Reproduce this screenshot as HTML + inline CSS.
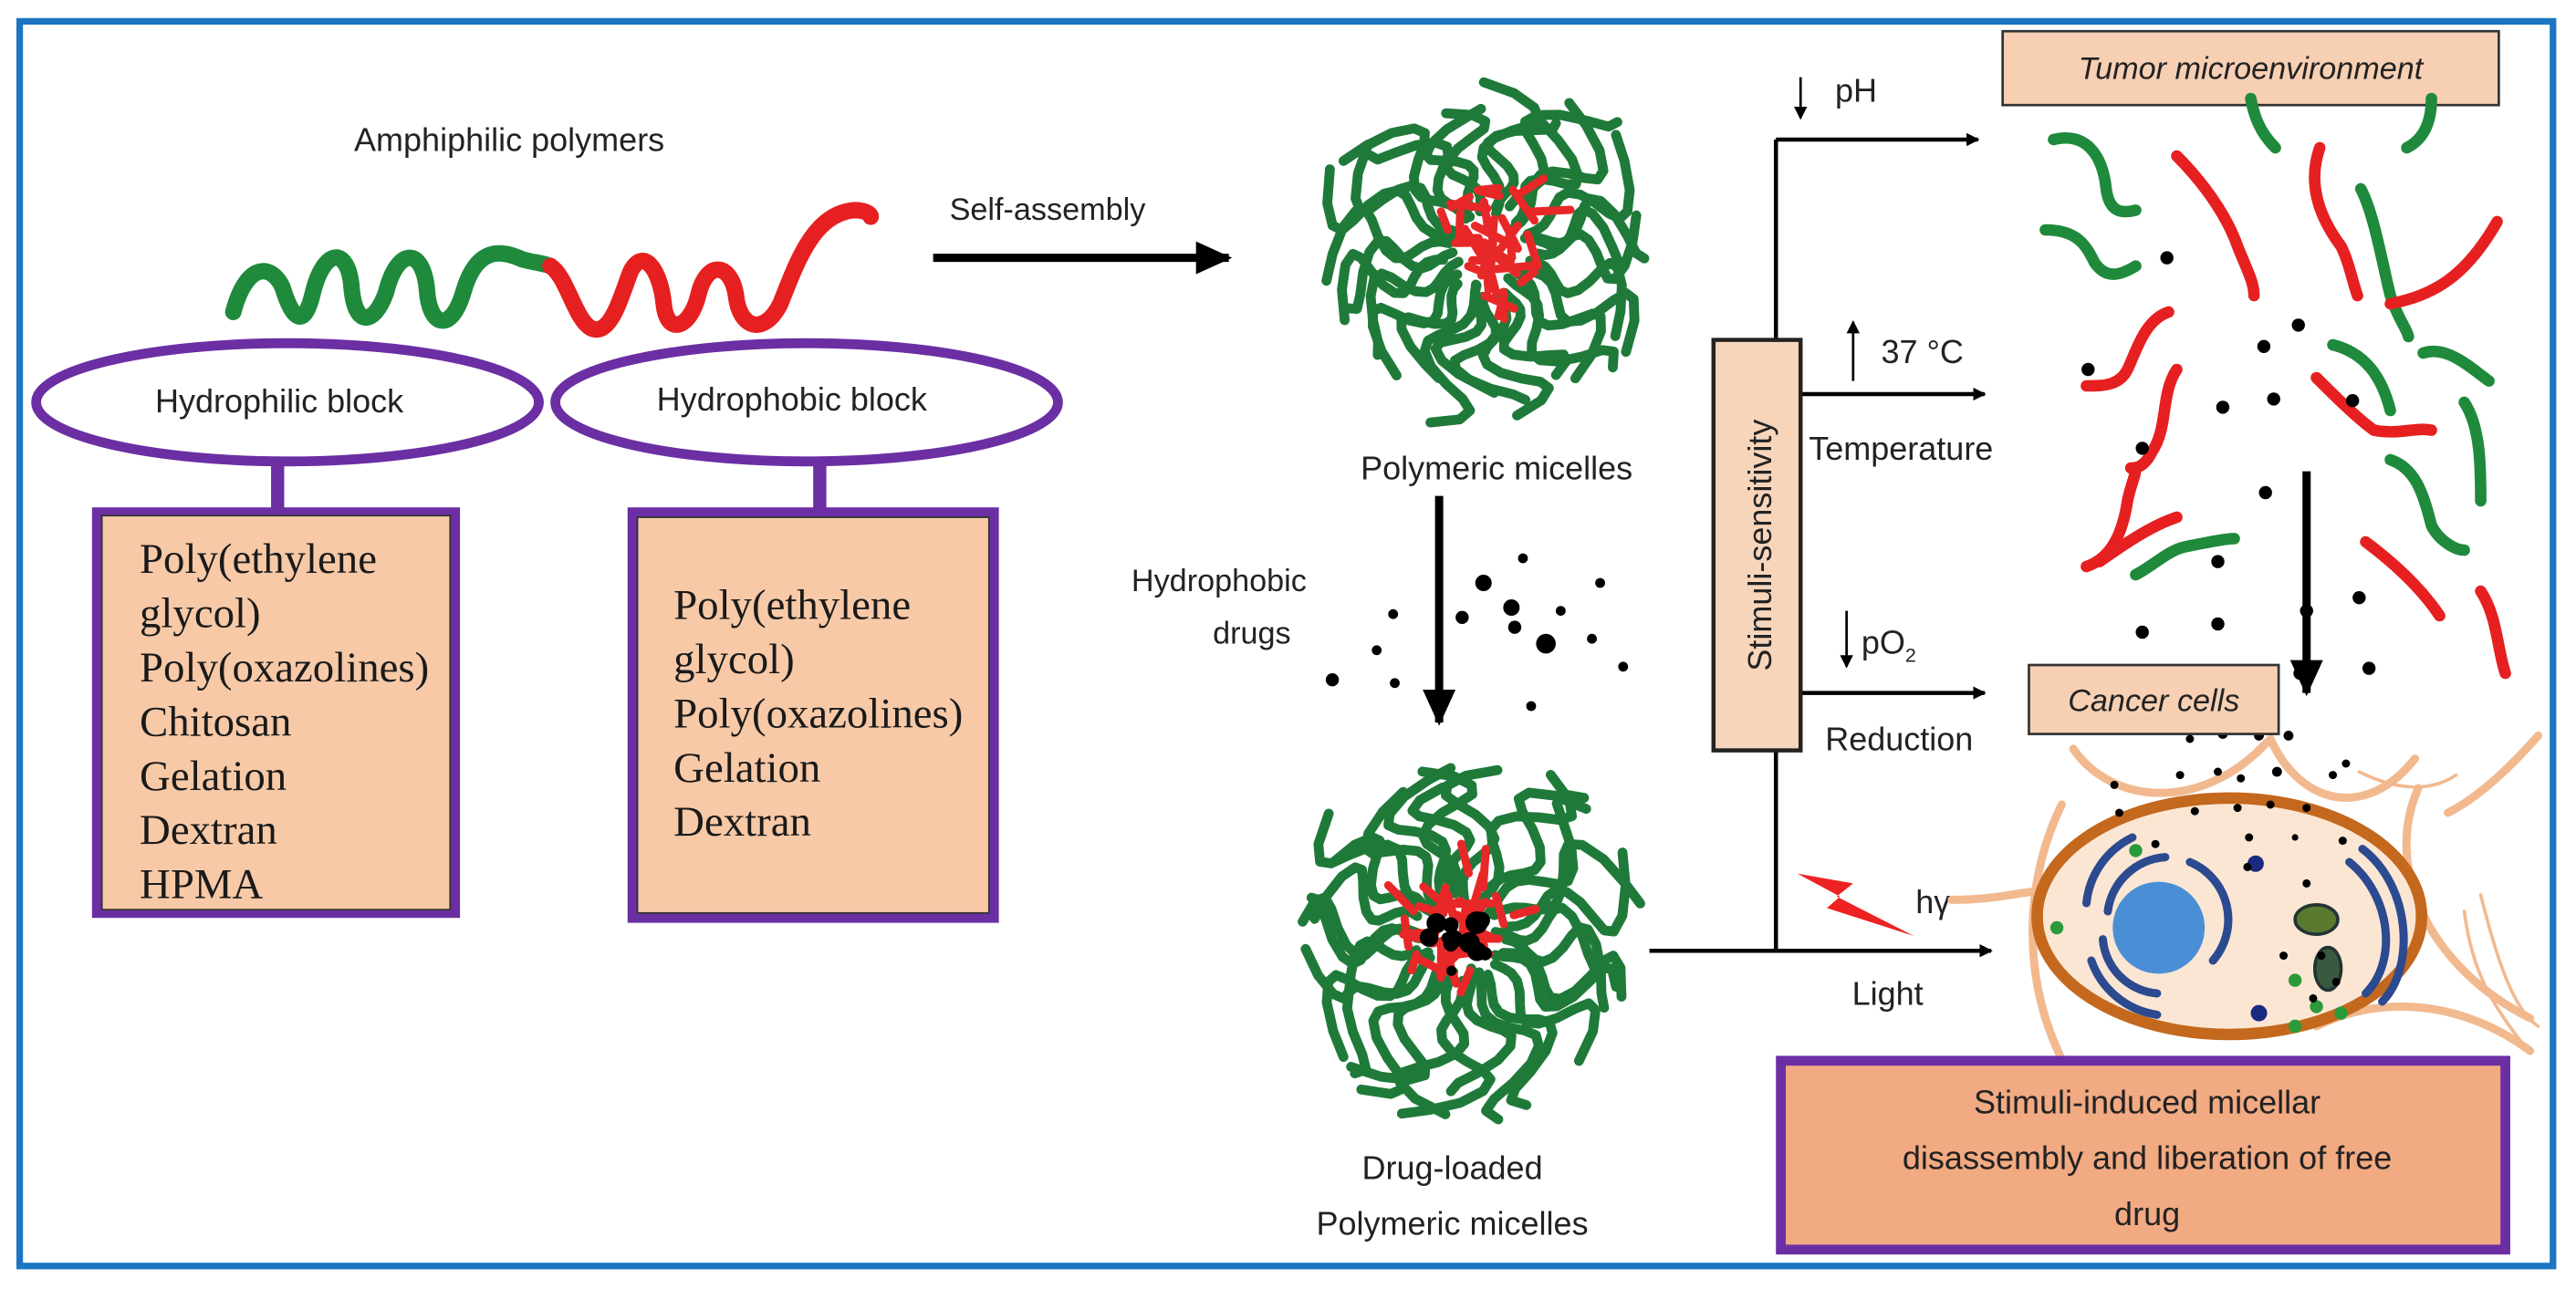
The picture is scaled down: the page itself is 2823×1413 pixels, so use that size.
<!DOCTYPE html>
<html><head><meta charset="utf-8"><style>
html,body{margin:0;padding:0;background:#fff;}
svg{display:block;}
.s{font-family:"Liberation Sans",sans-serif;fill:#222;}
.t{font-family:"Liberation Serif",serif;fill:#1a1a1a;font-size:26px;}
</style></head><body>
<svg id="sv" width="2823" height="1413" viewBox="0 0 1568 785" preserveAspectRatio="none" xmlns="http://www.w3.org/2000/svg">
<defs>
<marker id="ah" markerWidth="8" markerHeight="8" refX="7" refY="4" orient="auto" markerUnits="userSpaceOnUse"><path d="M0,0 L8,4 L0,8 z" fill="#000"/></marker>
<marker id="ahb" markerWidth="22" markerHeight="20" refX="20" refY="10" orient="auto" markerUnits="userSpaceOnUse"><path d="M0,0 L22,10 L0,20 z" fill="#000"/></marker>
</defs>
<rect x="0" y="0" width="1568" height="785" fill="#fff"/>
<rect x="12" y="13" width="1542" height="758" fill="none" stroke="#1b75c2" stroke-width="4"/>

<text x="310" y="92" class="s" font-size="20" text-anchor="middle">Amphiphilic polymers</text>
<path d="M142,190 C150,160 165,160 172,175 C178,195 185,200 190,180 C197,150 212,150 214,175 C216,200 228,198 235,178 C242,150 258,150 260,178 C262,200 275,202 282,178 C290,150 305,152 318,158 C325,160 330,160 335,162" fill="none" stroke="#1f8a3c" stroke-width="10" stroke-linecap="round"/>
<path d="M335,162 C345,168 350,195 360,200 C372,205 378,180 384,165 C392,150 402,165 404,185 C406,205 420,200 425,180 C430,158 445,160 448,180 C450,200 465,205 475,185 C485,160 495,130 520,128 C526,128 530,130 530,132" fill="none" stroke="#e62020" stroke-width="10" stroke-linecap="round"/>

<text x="578" y="134" class="s" font-size="19">Self-assembly</text>
<line x1="568" y1="157" x2="748" y2="157" stroke="#000" stroke-width="5" marker-end="url(#ahb)"/>

<ellipse cx="175" cy="245" rx="153" ry="36" fill="#fff" stroke="#6b2fa3" stroke-width="6"/>
<text x="170" y="251" class="s" font-size="20" text-anchor="middle">Hydrophilic block</text>
<ellipse cx="491" cy="245" rx="153" ry="36" fill="#fff" stroke="#6b2fa3" stroke-width="6"/>
<text x="482" y="250" class="s" font-size="20" text-anchor="middle">Hydrophobic block</text>
<rect x="165" y="281" width="8" height="30" fill="#6b2fa3"/>
<rect x="495" y="281" width="8" height="30" fill="#6b2fa3"/>

<rect x="56" y="309" width="224" height="250" fill="#6b2fa3"/>
<rect x="62" y="314" width="212" height="240" fill="#f7c9a7" stroke="#333" stroke-width="1"/>
<g class="t">
<text x="85" y="349">Poly(ethylene</text><text x="85" y="382">glycol)</text><text x="85" y="415">Poly(oxazolines)</text><text x="85" y="448">Chitosan</text><text x="85" y="481">Gelation</text><text x="85" y="514">Dextran</text><text x="85" y="547">HPMA</text>
</g>
<rect x="382" y="309" width="226" height="253" fill="#6b2fa3"/>
<rect x="388" y="315" width="214" height="241" fill="#f7c9a7" stroke="#333" stroke-width="1"/>
<g class="t">
<text x="410" y="377">Poly(ethylene</text><text x="410" y="410">glycol)</text><text x="410" y="443">Poly(oxazolines)</text><text x="410" y="476">Gelation</text><text x="410" y="509">Dextran</text>
</g>

<g id="m1"></g>
<g id="m2"></g>
<text x="911" y="292" class="s" font-size="20" text-anchor="middle">Polymeric micelles</text>
<line x1="876" y1="302" x2="876" y2="440" stroke="#000" stroke-width="5" marker-end="url(#ahb)"/>
<text x="742" y="360" class="s" font-size="19" text-anchor="middle">Hydrophobic</text>
<text x="762" y="392" class="s" font-size="19" text-anchor="middle">drugs</text>
<g fill="#000">
<circle cx="903" cy="355" r="5"/><circle cx="927" cy="340" r="3"/><circle cx="974" cy="355" r="3"/><circle cx="848" cy="374" r="3"/><circle cx="890" cy="376" r="4"/><circle cx="920" cy="370" r="5"/><circle cx="922" cy="382" r="4"/><circle cx="941" cy="392" r="6"/><circle cx="950" cy="372" r="3"/><circle cx="969" cy="389" r="3"/><circle cx="838" cy="396" r="3"/><circle cx="811" cy="414" r="4"/><circle cx="849" cy="416" r="3"/><circle cx="988" cy="406" r="3"/><circle cx="932" cy="430" r="3"/>
</g>
<text x="884" y="718" class="s" font-size="20" text-anchor="middle">Drug-loaded</text>
<text x="884" y="752" class="s" font-size="20" text-anchor="middle">Polymeric micelles</text>

<!-- stimuli -->
<line x1="1004" y1="579" x2="1212" y2="579" stroke="#000" stroke-width="2.5" marker-end="url(#ah)"/>
<line x1="1081" y1="85" x2="1081" y2="579" stroke="#000" stroke-width="2.5"/>
<line x1="1081" y1="85" x2="1204" y2="85" stroke="#000" stroke-width="2.5" marker-end="url(#ah)"/>
<line x1="1096" y1="240" x2="1208" y2="240" stroke="#000" stroke-width="2.5" marker-end="url(#ah)"/>
<line x1="1096" y1="422" x2="1208" y2="422" stroke="#000" stroke-width="2.5" marker-end="url(#ah)"/>
<rect x="1043" y="207" width="53" height="250" fill="#f7d5bb" stroke="#222" stroke-width="2.5"/>
<text transform="translate(1078,332) rotate(-90)" class="s" font-size="20" text-anchor="middle">Stimuli-sensitivity</text>
<line x1="1096" y1="47" x2="1096" y2="72" stroke="#000" stroke-width="1.5" marker-end="url(#ah)"/>
<text x="1117" y="62" class="s" font-size="20">pH</text>
<line x1="1128" y1="232" x2="1128" y2="196" stroke="#000" stroke-width="1.5" marker-end="url(#ah)"/>
<text x="1145" y="221" class="s" font-size="20">37 °C</text>
<text x="1101" y="280" class="s" font-size="20">Temperature</text>
<line x1="1124" y1="372" x2="1124" y2="406" stroke="#000" stroke-width="1.5" marker-end="url(#ah)"/>
<text x="1133" y="398" class="s" font-size="20">pO<tspan font-size="12" dy="5">2</tspan></text>
<text x="1111" y="457" class="s" font-size="20">Reduction</text>
<path d="M1094,532 L1128,538 L1118,546 L1165,570 L1112,553 L1120,546 z" fill="#ee2222"/>
<text x="1166" y="556" class="s" font-size="20">hγ</text>
<text x="1149" y="612" class="s" font-size="20" text-anchor="middle">Light</text>

<rect x="1219" y="19" width="302" height="45" fill="#f7d0b3" stroke="#333" stroke-width="1.5"/>
<text x="1370" y="48" class="s" font-size="19" font-style="italic" text-anchor="middle">Tumor microenvironment</text>

<g id="frag" fill="none" stroke-width="7" stroke-linecap="round"></g>
<line x1="1404" y1="287" x2="1404" y2="422" stroke="#000" stroke-width="5" marker-end="url(#ahb)"/>

<!-- cell -->
<g fill="none" stroke="#f2b98f" stroke-width="5" stroke-linecap="round">
<path d="M1262,456 C1285,490 1340,495 1380,452"/>
<path d="M1382,450 C1400,490 1440,500 1470,462"/>
<path d="M1472,480 C1450,530 1480,590 1540,620"/>
<path d="M1490,495 C1510,485 1530,465 1545,448"/>
<path d="M1410,625 C1450,605 1500,610 1540,640"/>
<path d="M1255,490 C1235,530 1228,590 1255,645"/>
<path d="M1188,548 C1215,548 1230,543 1240,543"/>
<path d="M1500,555 C1505,595 1520,615 1535,635" stroke-width="2"/>
<path d="M1510,545 C1520,585 1530,615 1545,625" stroke-width="2"/>
<path d="M1436,470 C1460,482 1480,482 1495,472" stroke-width="2"/>
</g>
<ellipse cx="1357" cy="558" rx="117" ry="72" fill="#fbe6d4" stroke="#c4681e" stroke-width="7"/>
<g fill="none" stroke="#2b4a90" stroke-width="5" stroke-linecap="round">
<path d="M1283,555 A38,38 0 0 1 1318,522"/>
<path d="M1280,572 A36,36 0 0 0 1313,605"/>
<path d="M1333,525 A38,38 0 0 1 1347,585"/>
<path d="M1270,550 A50,50 0 0 1 1298,510"/>
<path d="M1273,585 A50,50 0 0 0 1313,618"/>
<path d="M1430,525 C1455,545 1460,585 1440,605"/>
<path d="M1438,517 C1468,540 1470,590 1450,610"/>
</g>
<circle cx="1314" cy="565" r="28" fill="#4a8fd6"/>
<ellipse cx="1410" cy="560" rx="13" ry="9" fill="#5a7a30" stroke="#233" stroke-width="2"/>
<ellipse cx="1417" cy="590" rx="8" ry="13" fill="#3a5a40" stroke="#233" stroke-width="2"/>
<g fill="#2a9a3a"><circle cx="1300" cy="518" r="4"/><circle cx="1252" cy="565" r="4"/><circle cx="1397" cy="597" r="4"/><circle cx="1410" cy="613" r="4"/><circle cx="1425" cy="617" r="4"/><circle cx="1397" cy="625" r="4"/></g>
<g fill="#1a2a80"><circle cx="1373" cy="526" r="5"/><circle cx="1375" cy="617" r="5"/></g>
<g fill="#000">
<circle cx="1333" cy="450" r="2.5"/><circle cx="1353" cy="447" r="3"/><circle cx="1375" cy="448" r="3"/><circle cx="1393" cy="448" r="3"/><circle cx="1327" cy="472" r="2.5"/><circle cx="1350" cy="470" r="2.5"/><circle cx="1364" cy="474" r="2.5"/><circle cx="1386" cy="470" r="3"/><circle cx="1420" cy="472" r="2.5"/><circle cx="1287" cy="478" r="2.5"/><circle cx="1290" cy="495" r="2.5"/><circle cx="1336" cy="494" r="2.5"/><circle cx="1362" cy="492" r="2.5"/><circle cx="1382" cy="490" r="2.5"/><circle cx="1404" cy="492" r="2.5"/><circle cx="1397" cy="510" r="2"/><circle cx="1369" cy="510" r="2.5"/><circle cx="1312" cy="514" r="2.5"/><circle cx="1426" cy="512" r="2.5"/><circle cx="1368" cy="528" r="2.5"/><circle cx="1404" cy="538" r="2.5"/><circle cx="1390" cy="582" r="2.5"/><circle cx="1413" cy="582" r="2.5"/><circle cx="1422" cy="598" r="2.5"/><circle cx="1408" cy="608" r="2.5"/><circle cx="1428" cy="465" r="2.5"/>
</g>
<rect x="1235" y="405" width="152" height="42" fill="#f7d0b3" stroke="#333" stroke-width="1.5"/>
<text x="1311" y="433" class="s" font-size="19" font-style="italic" text-anchor="middle">Cancer cells</text>

<rect x="1081" y="643" width="447" height="121" fill="#6b2fa3"/>
<rect x="1087" y="649" width="435" height="109" fill="#f2aa82"/>
<text x="1307" y="678" class="s" font-size="20" text-anchor="middle">Stimuli-induced micellar</text>
<text x="1307" y="712" class="s" font-size="20" text-anchor="middle">disassembly and liberation of free</text>
<text x="1307" y="746" class="s" font-size="20" text-anchor="middle">drug</text>
</svg>
<script>
(function(){
var seed=7;
function r(){seed=(seed*16807)%2147483647;return (seed-1)/2147483646;}
function mic(id,cx,cy,R,drug){
 var g=document.getElementById(id);var h="";
 for(var i=0;i<30;i++){var a=i/30*6.283+r()*0.2;var r0=20+r()*10;var r1=R*(0.75+r()*0.28);var ph=r()*6;
  var pts=[];for(var k=0;k<=14;k++){var t=k/14;var rr=r0+(r1-r0)*t;var aa=a+Math.sin(t*9+ph)*0.22*(0.4+t);pts.push((cx+rr*Math.cos(aa)).toFixed(1)+","+(cy+rr*Math.sin(aa)).toFixed(1));}
  h+='<polyline points="'+pts.join(" ")+'" fill="none" stroke="#1f7a3a" stroke-width="6" stroke-linecap="round" stroke-linejoin="round"/>';}
 for(var i=0;i<34;i++){var a=r()*6.283;var rr=r()*40;var x=cx+rr*Math.cos(a),y=cy+rr*Math.sin(a);var b=r()*6.283;var l=10+r()*14;
  h+='<line x1="'+x.toFixed(1)+'" y1="'+y.toFixed(1)+'" x2="'+(x+l*Math.cos(b)).toFixed(1)+'" y2="'+(y+l*Math.sin(b)).toFixed(1)+'" stroke="#e82828" stroke-width="5" stroke-linecap="round"/>';}
 if(drug){for(var i=0;i<14;i++){var a=r()*6.283;var rr=r()*22;h+='<circle cx="'+(cx+rr*Math.cos(a)).toFixed(1)+'" cy="'+(cy+rr*Math.sin(a)).toFixed(1)+'" r="'+(3+r()*4).toFixed(1)+'" fill="#000"/>';}}
 g.innerHTML=h;}
mic("m1",907,152,110,false);mic("m2",889,570,112,true);
var f=document.getElementById("frag");var h="";
var fr=[["g","M1250,85 C1270,80 1280,95 1282,115 C1284,130 1292,130 1300,128"],["g","M1245,140 C1265,140 1270,150 1275,160 C1282,170 1290,168 1300,162"],["r","M1325,95 C1340,110 1355,130 1362,150 C1368,165 1372,172 1372,180"],["r","M1412,90 C1405,110 1410,130 1425,150 C1430,160 1432,172 1435,180"],["g","M1437,115 C1445,130 1450,160 1455,180 C1460,195 1465,200 1466,205"],["r","M1455,185 C1480,180 1500,170 1520,135"],["g","M1370,60 C1372,70 1375,80 1385,90"],["g","M1480,60 C1480,75 1475,85 1465,90"],["r","M1320,190 C1305,195 1300,215 1295,225 C1290,235 1280,235 1270,235"],["r","M1325,225 C1315,240 1320,260 1310,275 C1305,285 1300,285 1297,285"],["g","M1420,210 C1440,215 1450,230 1455,250"],["r","M1410,230 C1420,240 1435,255 1445,262 C1460,265 1470,260 1480,262"],["g","M1475,215 C1490,210 1505,225 1515,232"],["g","M1500,245 C1510,260 1510,285 1510,305"],["g","M1455,280 C1470,285 1475,300 1480,320 C1485,330 1495,335 1500,335"],["r","M1270,345 C1285,340 1292,325 1295,305 C1297,295 1300,290 1300,285"],["r","M1278,342 C1295,330 1310,320 1325,315"],["g","M1300,350 C1310,345 1320,335 1330,333 C1345,330 1355,328 1360,328"],["r","M1440,330 C1460,345 1475,360 1485,375"],["r","M1510,360 C1520,375 1520,395 1525,410"]];
for(var i=0;i<fr.length;i++){h+='<path d="'+fr[i][1]+'" stroke="'+(fr[i][0]=="g"?"#1f8a3c":"#e62020")+'"/>';}
var d=[[1319,157],[1271,225],[1378,211],[1399,198],[1353,248],[1384,243],[1304,273],[1379,300],[1432,244],[1350,342],[1436,364],[1404,372],[1304,385],[1350,380],[1442,407],[1400,410]];
for(var i=0;i<d.length;i++){h+='<circle cx="'+d[i][0]+'" cy="'+d[i][1]+'" r="4" fill="#000" stroke="none"/>';}
f.innerHTML=h;
})();
</script>
</body></html>
